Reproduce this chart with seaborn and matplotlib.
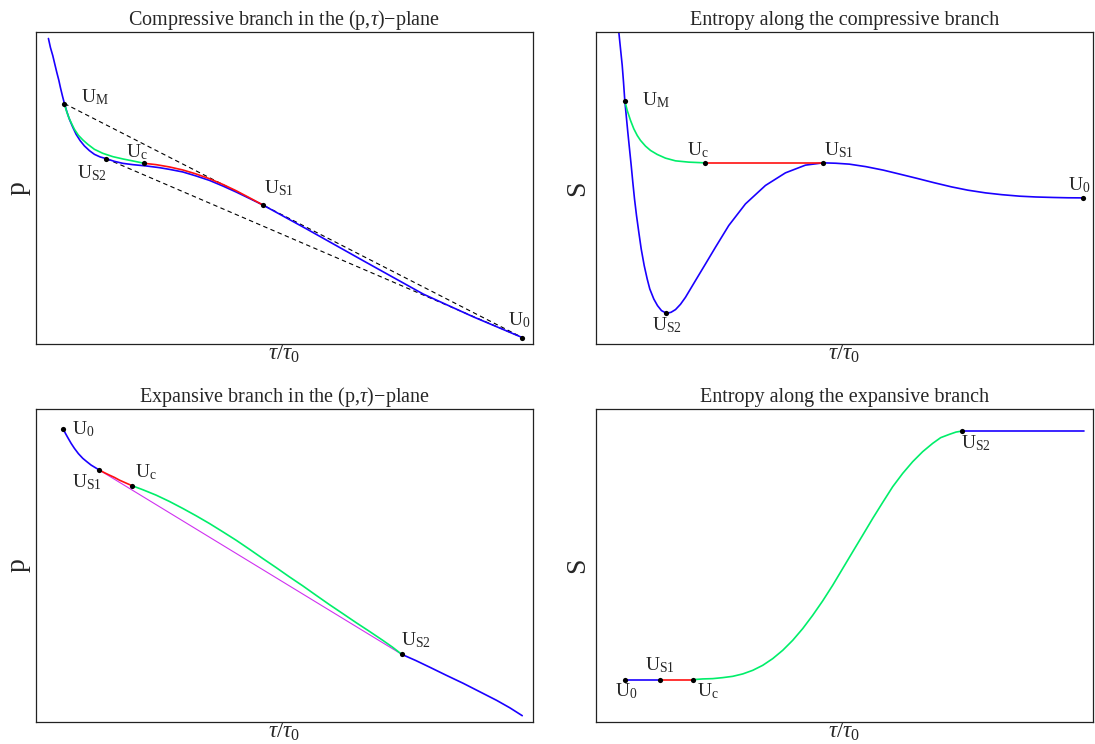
import matplotlib
matplotlib.use("Agg")
import matplotlib.pyplot as plt
import seaborn as sns

# ---------------------------------------------------------------------------
# style: plain framed panels, Times-like serif text, no ticks
# ---------------------------------------------------------------------------
sns.set_theme(style="white")
plt.rcParams['font.family'] = ['Liberation Serif', 'DejaVu Serif']
plt.rcParams['mathtext.fontset'] = 'custom'
plt.rcParams['mathtext.rm'] = 'Liberation Serif'
plt.rcParams['mathtext.it'] = 'Liberation Serif:italic'
plt.rcParams['axes.unicode_minus'] = False

BLUE = "#1a00ff"
GREEN = "#00ee6a"
RED = "#ff1010"
MAGENTA = "#d030f0"

# ---------------------------------------------------------------------------
# data (tau/tau0 and p or S in arbitrary units)
# ---------------------------------------------------------------------------
# compressive branch, (p, tau)-plane
comp_blue_tau = [12.3, 14.3, 16.7, 18.7, 20.7, 22.7, 24.3, 26.3, 28.3, 30.7, 33.3, 36.7,
                 40.0, 44.0, 48.3, 53.3, 58.3, 64.0, 70.0, 78.3, 86.7, 96.7, 110.0, 123.3,
                 133.3, 146.7, 160.0, 173.3, 186.7, 200.0, 213.3, 226.5, 270.7, 327.3,
                 387.3, 437.3, 486.3]
comp_blue_p = [305.5, 296.5, 288.2, 279.8, 271.5, 263.8, 256.5, 248.2, 240.5, 232.5, 224.8, 216.8,
               209.8, 203.5, 198.2, 193.5, 189.8, 187.2, 185.5, 182.8, 180.8, 179.5, 178.2, 176.5,
               174.8, 172.2, 168.2, 163.8, 158.2, 152.2, 145.8, 139.4, 115.2, 83.5,
               50.2, 27.5, 6.8]
comp_green_tau = [28.3, 30.0, 32.3, 35.0, 38.3, 42.3, 46.7, 51.7, 58.3, 66.7, 76.7, 86.7, 96.7, 108.3]
comp_green_p = [240.5, 234.2, 227.5, 221.5, 214.8, 208.8, 204.2, 199.8, 194.8, 190.8, 187.5, 185.2,
                183.2, 180.8]
comp_red_tau = [108.3, 120.0, 133.3, 146.7, 160.0, 173.3, 186.7, 200.0, 213.3, 226.5]
comp_red_p = [180.8, 179.5, 177.2, 174.2, 170.2, 165.5, 159.8, 153.5, 146.5, 139.4]
comp_pts = ["UM", "US2", "Uc", "US1", "U0"]
comp_pts_tau = [28.3, 70.0, 108.3, 226.5, 486.3]
comp_pts_p = [240.5, 185.5, 180.8, 139.4, 6.8]

# compressive branch, entropy
comp_s_blue_tau = [22.8, 24.5, 26.2, 27.5, 28.8, 30.2, 31.8, 33.5, 35.2, 36.8, 38.5, 40.5,
                   42.8, 45.2, 48.2, 51.2, 53.8, 57.8, 61.5, 65.5, 70.5, 75.0, 79.5, 84.5,
                   89.5, 99.5, 109.5, 119.5, 132.8, 149.5, 169.5, 189.5, 209.5, 227.2,
                   240.0, 253.4, 270.0, 287.5, 304.0, 321.5, 338.0, 355.6, 372.0, 389.7,
                   406.0, 423.8, 440.0, 457.8, 472.0, 486.8]
comp_s_blue_S = [312.0, 295.3, 278.7, 262.0, 243.3, 228.7, 212.0, 195.3, 178.7, 162.0, 145.3, 128.7,
                 112.0, 95.3, 78.7, 65.3, 55.3, 45.3, 38.7, 33.7, 31.0, 32.0, 34.7, 40.0,
                 47.0, 63.7, 80.3, 97.0, 118.7, 140.3, 158.7, 171.3, 179.0, 181.3,
                 180.9, 180.0, 177.5, 174.0, 170.0, 165.7, 161.5, 157.3, 154.0, 151.3,
                 149.5, 148.0, 147.2, 146.7, 146.4, 146.3]
comp_s_green_tau = [28.8, 31.2, 34.5, 37.8, 41.2, 44.5, 49.5, 54.5, 61.2, 69.5, 79.5, 92.8, 108.8]
comp_s_green_S = [243.3, 233.7, 223.7, 215.3, 208.7, 203.7, 198.0, 193.7, 189.7, 186.0, 183.3,
                  182.0, 181.3]
comp_s_red_tau = [108.8, 227.2]
comp_s_red_S = [181.3, 181.3]
comp_s_pts = ["UM", "Uc", "US1", "US2", "U0"]
comp_s_pts_tau = [28.8, 108.8, 227.2, 70.5, 486.8]
comp_s_pts_S = [243.3, 181.3, 181.3, 31.0, 146.3]

# expansive branch, (p, tau)-plane
exp_blue1_tau = [27.3, 29.3, 31.7, 35.0, 38.3, 42.3, 46.7, 50.7, 55.0, 59.3, 63.3]
exp_blue1_p = [292.0, 288.0, 283.7, 278.0, 273.0, 267.7, 263.0, 259.7, 256.3, 253.7, 251.3]
exp_red_tau = [63.3, 68.3, 73.3, 78.3, 83.3, 90.0, 96.0]
exp_red_p = [251.3, 248.7, 246.3, 244.0, 241.3, 238.3, 235.7]
exp_green_tau = [96.0, 106.7, 120.0, 133.3, 146.7, 160.0, 173.3, 186.7, 200.0, 213.3, 226.7,
                 240.0, 253.3, 266.7, 280.0, 293.3, 306.7, 320.0, 333.3, 346.7, 356.7, 365.7]
exp_green_p = [235.7, 231.7, 226.3, 220.0, 213.0, 205.7, 198.0, 189.7, 181.3, 172.3, 163.0,
               154.0, 144.7, 135.7, 126.3, 117.0, 108.0, 99.0, 90.3, 81.3, 74.3, 67.3]
exp_chord_tau = [63.3, 365.7]
exp_chord_p = [251.3, 67.3]
exp_blue2_tau = [365.7, 380.0, 394.0, 410.0, 427.3, 444.0, 460.7, 474.0, 486.3]
exp_blue2_p = [67.3, 61.0, 54.3, 46.5, 38.3, 29.8, 21.3, 13.8, 6.0]
exp_pts = ["U0", "US1", "Uc", "US2"]
exp_pts_tau = [27.3, 63.3, 96.0, 365.7]
exp_pts_p = [292.0, 251.3, 235.7, 67.3]

# expansive branch, entropy
exp_s_blue1_tau = [28.5, 64.3]
exp_s_blue1_S = [42.0, 42.0]
exp_s_red_tau = [64.3, 97.0]
exp_s_red_S = [42.0, 42.0]
exp_s_green_tau = [97.0, 106.8, 116.8, 126.8, 136.8, 146.8, 156.8, 166.8, 176.8, 186.8, 196.8,
                   206.8, 216.8, 226.8, 236.8, 246.8, 256.8, 266.8, 276.8, 286.8, 296.8,
                   306.8, 316.8, 326.8, 336.8, 344.8, 353.5, 360.2, 366.2]
exp_s_green_S = [42.0, 42.7, 43.0, 44.0, 45.3, 47.7, 51.3, 56.3, 63.0, 71.3, 81.3,
                 93.0, 106.3, 120.7, 136.3, 153.0, 169.7, 186.3, 203.0, 219.0, 234.7,
                 248.0, 259.7, 269.7, 278.0, 283.7, 287.0, 289.3, 290.3]
exp_s_blue2_tau = [366.2, 487.8]
exp_s_blue2_S = [290.3, 290.3]
exp_s_pts = ["U0", "US1", "Uc", "US2"]
exp_s_pts_tau = [28.5, 64.3, 97.0, 366.2]
exp_s_pts_S = [42.0, 42.0, 42.0, 290.3]

# ---------------------------------------------------------------------------
# label text and placement (pixel offsets from the dot, left/baseline anchored)
# ---------------------------------------------------------------------------
LABEL_TEXT = {
    "UM": r"U$_{\rm M}$", "US1": r"U$_{\rm S1}$", "US2": r"U$_{\rm S2}$",
    "Uc": r"U$_{\rm c}$", "U0": r"U$_{\rm 0}$",
}
OFFSETS = [
    {"UM": (17, 1), "US2": (-29, -20), "Uc": (-18, 6), "US1": (1, 11), "U0": (-14, 12)},
    {"UM": (17, -5), "Uc": (-18, 8), "US1": (1, 8), "US2": (-14, -17), "U0": (-15, 8)},
    {"U0": (9, -5), "US1": (-27, -17), "Uc": (3, 8), "US2": (-1, 9)},
    {"U0": (-10, -17), "US1": (-15, 9), "Uc": (4, -17), "US2": (-1, -17)},
]

TITLES = [
    r"Compressive branch in the (p,$\tau$)$-$plane",
    "Entropy along the compressive branch",
    r"Expansive branch in the (p,$\tau$)$-$plane",
    "Entropy along the expansive branch",
]
YLABELS = ["p", "S", "p", "S"]


def curve(ax, x, y, color, lw=1.2, ls="-"):
    sns.lineplot(x=x, y=y, ax=ax, color=color, linewidth=lw, linestyle=ls,
                 sort=False, estimator=None)


def dots(ax, names, x, y, offsets):
    sns.scatterplot(x=x, y=y, ax=ax, color="black", s=14, linewidth=0, zorder=5)
    for n, xi, yi in zip(names, x, y):
        dx, dy = offsets[n]
        ax.annotate(LABEL_TEXT[n], (xi, yi), xytext=(dx, dy), textcoords="offset pixels",
                    ha="left", va="baseline", fontsize=14)


fig, axes = plt.subplots(2, 2, figsize=(10.95, 7.44), dpi=100)
plt.subplots_adjust(left=0.033, right=0.998, top=0.957, bottom=0.030,
                    wspace=0.127, hspace=0.208)
ax1, ax2, ax3, ax4 = axes.ravel()

# panel 1: Hugoniot pieces plus the two Rayleigh chords ending at U0
dash = (0, (4, 3))
curve(ax1, [comp_pts_tau[0], comp_pts_tau[4]], [comp_pts_p[0], comp_pts_p[4]], "black", 0.8, dash)
curve(ax1, [comp_pts_tau[1], comp_pts_tau[4]], [comp_pts_p[1], comp_pts_p[4]], "black", 0.8, dash)
curve(ax1, comp_blue_tau, comp_blue_p, BLUE)
curve(ax1, comp_green_tau, comp_green_p, GREEN)
curve(ax1, comp_red_tau, comp_red_p, RED)
dots(ax1, comp_pts, comp_pts_tau, comp_pts_p, OFFSETS[0])

# panel 2
curve(ax2, comp_s_blue_tau, comp_s_blue_S, BLUE)
curve(ax2, comp_s_green_tau, comp_s_green_S, GREEN)
curve(ax2, comp_s_red_tau, comp_s_red_S, RED)
dots(ax2, comp_s_pts, comp_s_pts_tau, comp_s_pts_S, OFFSETS[1])

# panel 3
curve(ax3, exp_chord_tau, exp_chord_p, MAGENTA, 0.8)
curve(ax3, exp_blue1_tau, exp_blue1_p, BLUE)
curve(ax3, exp_red_tau, exp_red_p, RED)
curve(ax3, exp_green_tau, exp_green_p, GREEN)
curve(ax3, exp_blue2_tau, exp_blue2_p, BLUE)
dots(ax3, exp_pts, exp_pts_tau, exp_pts_p, OFFSETS[2])

# panel 4
curve(ax4, exp_s_blue1_tau, exp_s_blue1_S, BLUE)
curve(ax4, exp_s_red_tau, exp_s_red_S, RED)
curve(ax4, exp_s_green_tau, exp_s_green_S, GREEN)
curve(ax4, exp_s_blue2_tau, exp_s_blue2_S, BLUE)
dots(ax4, exp_s_pts, exp_s_pts_tau, exp_s_pts_S, OFFSETS[3])

for ax, title, ylab in zip(axes.ravel(), TITLES, YLABELS):
    ax.set_xlim(0, 497)
    ax.set_ylim(0, 312)
    ax.set_xticks([])
    ax.set_yticks([])
    ax.set_title(title, fontsize=14.5, pad=5)
    ax.set_xlabel(r"$\tau/\tau_{\rm 0}$", fontsize=16.5, labelpad=-1)
    ax.set_ylabel(ylab, fontsize=20, labelpad=4)
    for sp in ax.spines.values():
        sp.set_color("#222222")
        sp.set_linewidth(0.9)

fig.savefig("out.png", dpi=100)
